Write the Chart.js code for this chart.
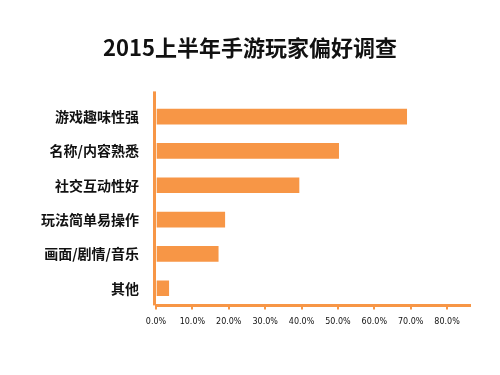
<!DOCTYPE html>
<html>
<head>
<meta charset="utf-8">
<script src="https://cdn.jsdelivr.net/npm/chart.js@4"></script>
<style>
  html, body { margin: 0; padding: 0; background: #fff; }
  #wrap { width: 500px; height: 375px; }
</style>
</head>
<body>
<div id="wrap"><canvas id="prefChart" width="500" height="375"></canvas></div>
<script>
// 2015上半年手游玩家偏好调查
const categories = ['游戏趣味性强', '名称/内容熟悉', '社交互动性好', '玩法简单易操作', '画面/剧情/音乐', '其他'];
const percents = [68.9, 50.2, 39.3, 18.9, 17.1, 3.5];
const tickValues = [0, 10, 20, 30, 40, 50, 60, 70, 80];

const orange = '#F79646';

// the vertical axis line runs a bit above the first bar in the original
const axisExtend = {
  id: 'axisExtend',
  beforeDatasetsDraw(chart) {
    const { ctx, chartArea } = chart;
    ctx.save();
    ctx.strokeStyle = orange;
    ctx.lineWidth = 3;
    ctx.beginPath();
    ctx.moveTo(chartArea.left - 1.5, chartArea.top - 8);
    ctx.lineTo(chartArea.left - 1.5, chartArea.bottom);
    ctx.stroke();
    ctx.restore();
  }
};

new Chart(document.getElementById('prefChart'), {
  type: 'bar',
  data: {
    labels: categories,
    datasets: [{
      label: '比例',
      data: percents,
      backgroundColor: orange,
      barThickness: 15
    }]
  },
  options: {
    indexAxis: 'y',
    responsive: false,
    animation: false,
    layout: { padding: { left: 30, right: 30, top: 0, bottom: 40 } },
    plugins: {
      legend: { display: false },
      tooltip: { enabled: false },
      title: {
        display: true,
        text: '2015上半年手游玩家偏好调查',
        color: '#111',
        font: { family: '"Noto Sans CJK SC", sans-serif', size: 22, weight: 'bold' },
        padding: { top: 34, bottom: 39 }
      }
    },
    scales: {
      x: {
        min: 0,
        max: 86.3,
        afterBuildTicks: scale => { scale.ticks = tickValues.map(v => ({ value: v })); },
        border: { display: true, color: orange, width: 3 },
        grid: { display: true, drawOnChartArea: false, color: orange, lineWidth: 2, tickLength: 4 },
        ticks: {
          color: '#111',
          padding: 8,
          font: { family: '"DejaVu Sans", sans-serif', size: 8 },
          callback: v => v.toFixed(1) + '%'
        }
      },
      y: {
        afterFit: scale => { scale.width = 126; },
        border: { display: false },
        grid: { display: false },
        ticks: {
          color: '#111',
          padding: 9,
          font: { family: '"Noto Sans CJK SC", sans-serif', size: 14, weight: 'bold' }
        }
      }
    }
  },
  plugins: [axisExtend]
});
</script>
</body>
</html>
